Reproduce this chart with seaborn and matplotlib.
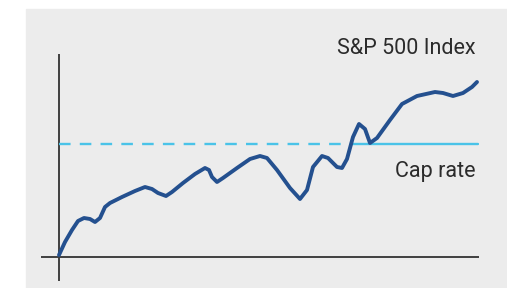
import numpy as np
import pandas as pd
import matplotlib
matplotlib.use('Agg')
import matplotlib.pyplot as plt
from matplotlib.patches import Rectangle
import seaborn as sns

# S&P 500 path (x = time, y = level above the x axis)
sp_x = [0, 6, 13, 19, 25, 31, 36, 41, 46, 51, 63, 76, 86, 93, 99, 107,
        113, 124, 136, 146, 150, 153, 158, 164, 178, 191, 201, 208, 218, 231,
        241, 248, 254, 263, 269, 278, 283, 288, 294, 300, 306, 311, 318, 331,
        343, 358, 376, 384, 394, 404, 413, 418]
sp_y = [2, 15, 27, 36, 39, 38, 35, 39, 50, 54, 60, 66, 70, 68, 64, 61,
        65, 74, 83, 89, 87, 80, 75, 79, 89, 98, 101, 99, 87, 69,
        58, 67, 90, 101, 99, 90, 89, 98, 120, 133, 128, 114, 119, 137,
        153, 161, 165, 164, 161, 164, 170, 175]

# cap rate level and where the dashes stop
cap_level = 113
cap_dash_end = 293
cap_end = 419

sns.set_theme(style='white')
plt.rcParams['font.family'] = ['Roboto', 'DejaVu Sans']

fig = plt.figure(figsize=(5.07, 2.88), dpi=100)
fig.patches.append(Rectangle((26/507, 0), 1 - 26/507, 279/288,
                             transform=fig.transFigure, color='#ececec', zorder=-10))

ax = fig.add_axes([41/507, 7/288, 438/507, 227/288])
ax.set_facecolor('none')
ax.set_xlim(-18, 420)
ax.set_ylim(-24, 203)
for s in ax.spines.values():
    s.set_visible(False)
ax.set_xticks([])
ax.set_yticks([])

ax.axhline(0, color='#404040', lw=1.4, zorder=1)
ax.axvline(0, color='#404040', lw=1.4, zorder=1)

cap = pd.DataFrame({'x': [0, cap_dash_end], 'y': [cap_level, cap_level]})
ax.plot(cap['x'], cap['y'], color='#4ac3e8', lw=1.7, dashes=(4.9, 3.9), zorder=2)
ax.plot([cap_dash_end, cap_end], [cap_level, cap_level], color='#4ac3e8', lw=1.7, zorder=2)

df = pd.DataFrame({'x': sp_x, 'y': sp_y})
sns.lineplot(data=df, x='x', y='y', ax=ax, color='#24508f', lw=2.8,
             solid_joinstyle='round', solid_capstyle='round', zorder=3)
ax.set_xlabel('')
ax.set_ylabel('')

ax.text(417, 203, 'S&P 500 Index', ha='right', va='baseline', fontsize=15.5,
        color='#2b2b2b')
ax.text(417, 80, 'Cap rate', ha='right', va='baseline', fontsize=15.5,
        color='#2b2b2b')

fig.savefig('out.png', dpi=100)
